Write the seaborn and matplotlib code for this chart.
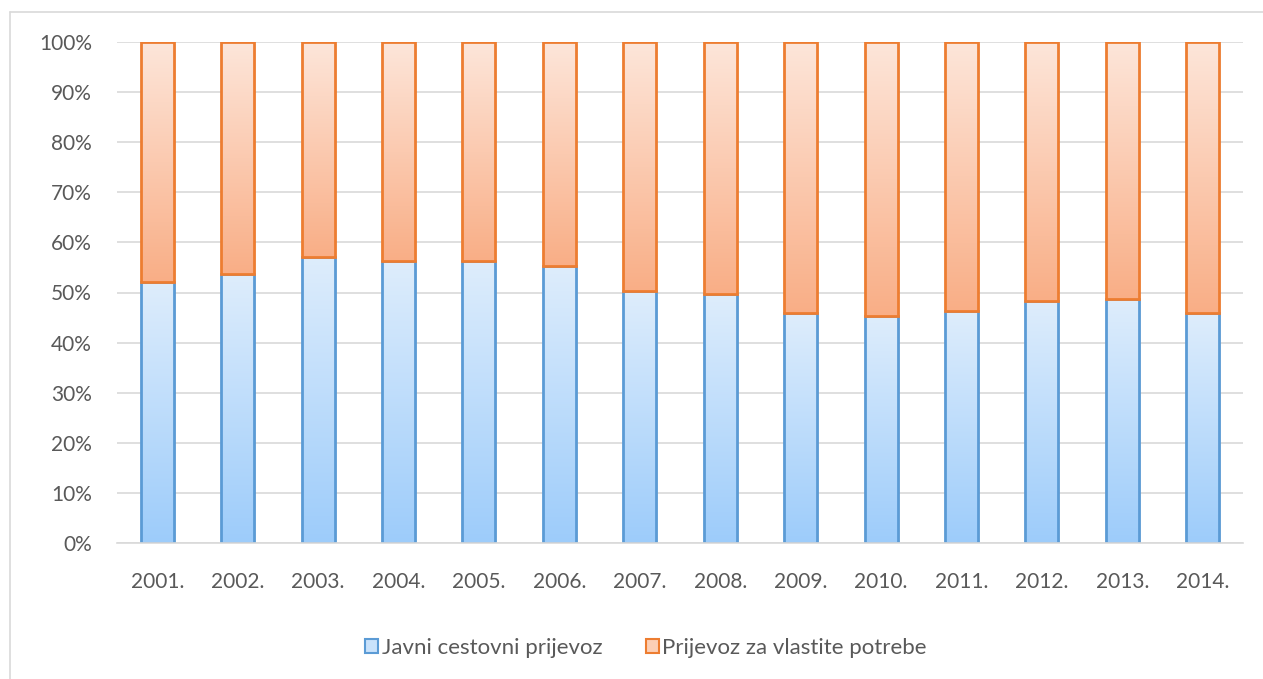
import numpy as np
import pandas as pd
import matplotlib
matplotlib.use("Agg")
import matplotlib.pyplot as plt
import seaborn as sns
from matplotlib.colors import LinearSegmentedColormap
from matplotlib.lines import Line2D
from matplotlib.patches import Rectangle

years = ["2001.", "2002.", "2003.", "2004.", "2005.", "2006.", "2007.",
         "2008.", "2009.", "2010.", "2011.", "2012.", "2013.", "2014."]
javni = [52.1, 53.7, 57.1, 56.3, 56.3, 55.3, 50.3, 49.7, 45.9, 45.3, 46.3, 48.3, 48.7, 45.9]
vlastite = [100 - v for v in javni]
series_names = ["Javni cestovni prijevoz", "Prijevoz za vlastite potrebe"]
yticks = [0, 10, 20, 30, 40, 50, 60, 70, 80, 90, 100]

sns.set_theme(style="white")
plt.rcParams['font.family'] = ['Lato', 'DejaVu Sans']

df = pd.DataFrame({"year": years, "javni": javni, "vlastite": vlastite})

fig = plt.figure(figsize=(12.63, 6.79), dpi=100)
ax = fig.add_axes([117/1263, 136/679, (1243-117)/1263, (543-42)/679])

blue_edge = "#5B9BD5"
orange_edge = "#ED7D31"
sns.barplot(data=df, x="year", y="javni", color="#BBDCFA", width=0.41, ax=ax,
            edgecolor=blue_edge, linewidth=2.0, saturation=1)
n = len(years)
blue_patches = list(ax.patches[:n])
sns.barplot(data=df, x="year", y="vlastite", color="#FBCBAE", width=0.41, ax=ax,
            edgecolor=orange_edge, linewidth=2.0, saturation=1)
orange_patches = list(ax.patches[n:2*n])
# stack the orange segment on top of the blue one
for p, b in zip(orange_patches, blue_patches):
    p.set_y(b.get_y() + b.get_height())

blue_cmap = LinearSegmentedColormap.from_list("b", ["#9DCCFA", "#DEEDFC"])
orange_cmap = LinearSegmentedColormap.from_list("o", ["#F9AE86", "#FDE6DA"])
grad = np.linspace(0, 1, 256).reshape(-1, 1)

for patches, cmap, z in [(blue_patches, blue_cmap, 3), (orange_patches, orange_cmap, 4)]:
    for p in patches:
        x0, w = p.get_x(), p.get_width()
        y0, h = p.get_y(), p.get_height()
        p.set_facecolor("none")
        p.set_zorder(z + 0.5)
        ax.imshow(grad, extent=(x0, x0 + w, y0, y0 + h), origin="lower", cmap=cmap,
                  aspect="auto", zorder=z, interpolation="bicubic")
        # soft shadow
        ax.add_patch(Rectangle((x0 + 0.025, y0 - 0.35), w, h, facecolor="#000000",
                               alpha=0.07, linewidth=0, zorder=2))

ax.set_xlim(-0.5, n - 0.5)
ax.set_ylim(0, 100)
ax.set_yticks(yticks)
ax.set_yticklabels([f"{t}%" for t in yticks])
ax.set_xlabel("")
ax.set_ylabel("")
ax.yaxis.grid(True, color="#D9D9D9", linewidth=1.2)
ax.set_axisbelow(True)
for s in ["left", "right", "top"]:
    ax.spines[s].set_visible(False)
ax.spines["bottom"].set_color("#D9D9D9")
ax.spines["bottom"].set_linewidth(1.2)
ax.spines["bottom"].set_zorder(5)
ax.tick_params(axis="y", length=0, pad=18, labelsize=15, labelcolor="#595959")
ax.tick_params(axis="x", length=0, pad=21, labelsize=15, labelcolor="#595959")

handles = [Rectangle((0, 0), 1, 1, facecolor="#C9E2FB", edgecolor=blue_edge, linewidth=1.5),
           Rectangle((0, 0), 1, 1, facecolor="#FCCFB5", edgecolor=orange_edge, linewidth=1.5)]
fig.legend(handles, series_names, loc="center", bbox_to_anchor=(646/1263, 1 - 648/679),
           ncol=2, frameon=False, fontsize=16, labelcolor="#595959",
           handlelength=0.6, handleheight=0.6, handletextpad=0.15, columnspacing=1.95)

# chart area border
fig.add_artist(Line2D([9.5/1263, 1.0], [1 - 12/679, 1 - 12/679], color="#D9D9D9", linewidth=1.2,
                      transform=fig.transFigure))
fig.add_artist(Line2D([9.5/1263, 9.5/1263], [0, 1 - 12/679], color="#D9D9D9", linewidth=1.2,
                      transform=fig.transFigure))

fig.savefig("out.png", dpi=100)
